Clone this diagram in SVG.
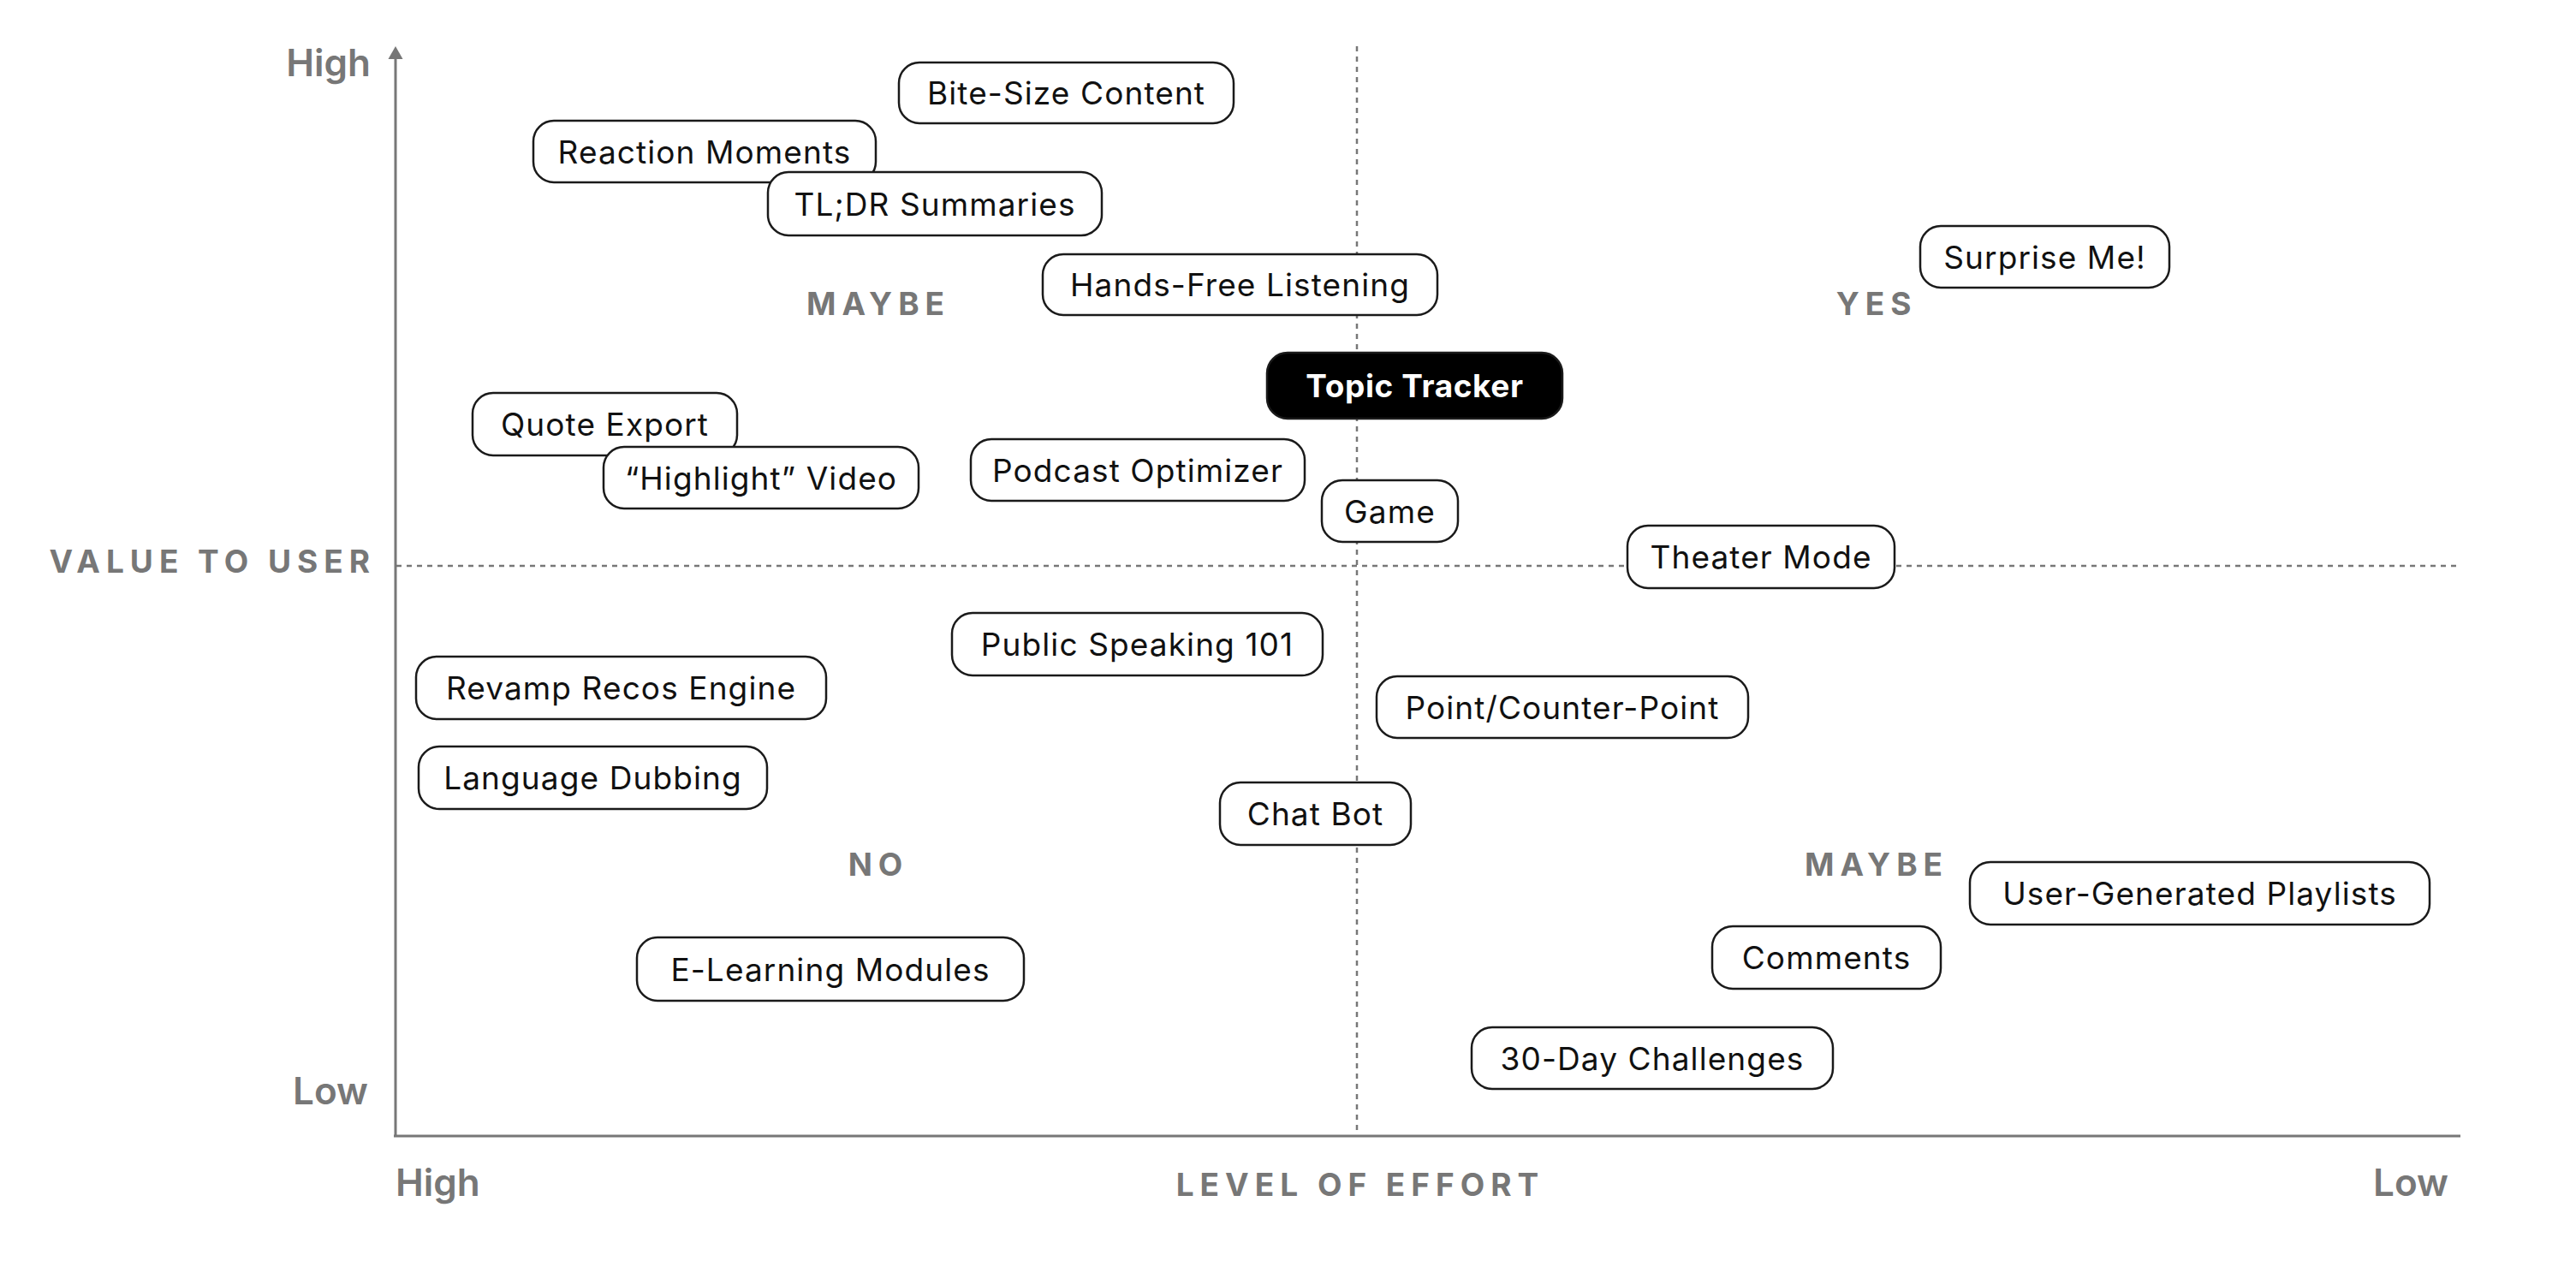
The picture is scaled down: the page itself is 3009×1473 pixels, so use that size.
<svg xmlns="http://www.w3.org/2000/svg" width="3009" height="1473" viewBox="0 0 3009 1473">
<defs>
<style>
.axis{stroke:#777;stroke-width:3;fill:none}
.guide{stroke:#777;stroke-width:2.5;stroke-dasharray:6 6;fill:none}
.node rect{fill:#fff;stroke:#1a1a1a;stroke-width:2.5}
.node text{font-family:Inter,"Liberation Sans",sans-serif;font-size:37px;font-weight:400;letter-spacing:1.1px;fill:#111;text-anchor:middle}
.hot rect{fill:#000;stroke:#1a1a1a}
.hot text{fill:#fff;font-weight:700;letter-spacing:0.6px}
.lbl{font-family:Inter,"Liberation Sans",sans-serif;fill:#777;font-weight:600}
.tick{font-size:44px}
.cap{font-size:37px;letter-spacing:7px;font-weight:700}
</style>
</defs>
<rect width="3009" height="1473" fill="#fff"/>
<g id="connectors">
<line class="guide" x1="1585" y1="54" x2="1585" y2="1326"/>
<line class="guide" x1="463" y1="661" x2="2873" y2="661"/>
<path class="axis" d="M462,1327 L462,68"/>
<path d="M453.5,69 L462,54 L470.5,69 Z" fill="#777"/>
<line class="axis" x1="460" y1="1327" x2="2874" y2="1327"/>
</g>
<g id="labels">
<text class="lbl tick" x="433" y="89" text-anchor="end">High</text>
<text class="lbl tick" x="430" y="1290" text-anchor="end">Low</text>
<text class="lbl tick" x="462" y="1397">High</text>
<text class="lbl tick" x="2860" y="1397" text-anchor="end">Low</text>
<text class="lbl cap" x="1589" y="1397" text-anchor="middle">LEVEL OF EFFORT</text>
<text class="lbl cap" x="439" y="669" text-anchor="end">VALUE TO USER</text>
<text class="lbl cap" x="1026" y="368" text-anchor="middle">MAYBE</text>
<text class="lbl cap" x="2192" y="368" text-anchor="middle">YES</text>
<text class="lbl cap" x="1026" y="1023" text-anchor="middle">NO</text>
<text class="lbl cap" x="2192" y="1023" text-anchor="middle">MAYBE</text>
</g>
<g id="n-bite" class="node"><rect x="1050" y="73" width="391" height="71" rx="24"/><text x="1245.5" y="122">Bite-Size Content</text></g>
<g id="n-reaction" class="node"><rect x="623" y="141" width="400" height="72" rx="24"/><text x="823" y="190.5">Reaction Moments</text></g>
<g id="n-tldr" class="node"><rect x="897" y="201" width="390" height="74" rx="24"/><text x="1092" y="251.5">TL;DR Summaries</text></g>
<g id="n-handsfree" class="node"><rect x="1218" y="297" width="461" height="71" rx="24"/><text x="1448.5" y="346">Hands-Free Listening</text></g>
<g id="n-surprise" class="node"><rect x="2243" y="264" width="291" height="72" rx="24"/><text x="2388.5" y="313.5">Surprise Me!</text></g>
<g id="n-topic" class="node hot"><rect x="1480" y="412" width="345" height="77" rx="24"/><text x="1652.5" y="464">Topic Tracker</text></g>
<g id="n-quote" class="node"><rect x="552" y="459" width="309" height="73" rx="24"/><text x="706.5" y="509">Quote Export</text></g>
<g id="n-highlight" class="node"><rect x="705" y="522" width="368" height="72" rx="24"/><text x="889" y="571.5">“Highlight” Video</text></g>
<g id="n-podcast" class="node"><rect x="1134" y="513" width="390" height="72" rx="24"/><text x="1329" y="562.5">Podcast Optimizer</text></g>
<g id="n-game" class="node"><rect x="1544" y="561" width="159" height="72" rx="24"/><text x="1623.5" y="610.5">Game</text></g>
<g id="n-theater" class="node"><rect x="1901" y="614" width="312" height="73" rx="24"/><text x="2057" y="664">Theater Mode</text></g>
<g id="n-public" class="node"><rect x="1112" y="716" width="433" height="73" rx="24"/><text x="1328.5" y="766">Public Speaking 101</text></g>
<g id="n-revamp" class="node"><rect x="486" y="767" width="479" height="73" rx="24"/><text x="725.5" y="817">Revamp Recos Engine</text></g>
<g id="n-language" class="node"><rect x="489" y="872" width="407" height="73" rx="24"/><text x="692.5" y="922">Language Dubbing</text></g>
<g id="n-point" class="node"><rect x="1608" y="790" width="434" height="72" rx="24"/><text x="1825" y="839.5">Point/Counter-Point</text></g>
<g id="n-chatbot" class="node"><rect x="1425" y="914" width="223" height="73" rx="24"/><text x="1536.5" y="964">Chat Bot</text></g>
<g id="n-elearning" class="node"><rect x="744" y="1095" width="452" height="74" rx="24"/><text x="970" y="1145.5">E-Learning Modules</text></g>
<g id="n-ugp" class="node"><rect x="2301" y="1007" width="537" height="73" rx="24"/><text x="2569.5" y="1057">User-Generated Playlists</text></g>
<g id="n-comments" class="node"><rect x="2000" y="1082" width="267" height="73" rx="24"/><text x="2133.5" y="1132">Comments</text></g>
<g id="n-30day" class="node"><rect x="1719" y="1200" width="422" height="72" rx="24"/><text x="1930" y="1249.5">30-Day Challenges</text></g>
</svg>
